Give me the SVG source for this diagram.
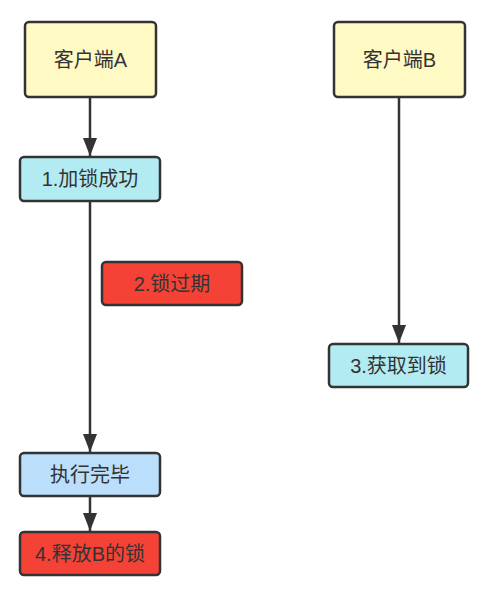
<svg xmlns="http://www.w3.org/2000/svg" width="483" height="591" viewBox="0 0 483 591">
<defs>
<style>
.box{stroke:#333;stroke-width:2.5}
.t{font-family:"Liberation Sans","Noto Sans CJK SC",sans-serif;font-size:20px;fill:#333;text-anchor:middle;dominant-baseline:central}
.c{stroke:#333;stroke-width:2.5;fill:none}
</style>
<marker id="ah" viewBox="0 0 18 14" refX="18" refY="7" markerWidth="18" markerHeight="14" markerUnits="userSpaceOnUse" orient="auto">
<path d="M0,0 L18,7 L0,14 Z" fill="#333"/>
</marker>
</defs>
<rect width="483" height="591" fill="#fff"/>
<g id="connectors">
<line class="c" x1="90" y1="97" x2="90" y2="156" marker-end="url(#ah)"/>
<line class="c" x1="399" y1="97" x2="399" y2="343" marker-end="url(#ah)"/>
<line class="c" x1="90" y1="201" x2="90" y2="452" marker-end="url(#ah)"/>
<line class="c" x1="90" y1="496" x2="90" y2="531" marker-end="url(#ah)"/>
</g>
<g id="clientA"><rect class="box" x="25" y="22" width="131" height="75" rx="4" fill="#FFF9C4"/><text class="t" x="90.5" y="60">客户端A</text></g>
<g id="clientB"><rect class="box" x="334" y="22" width="131" height="75" rx="4" fill="#FFF9C4"/><text class="t" x="399.5" y="60">客户端B</text></g>
<g id="n1"><rect class="box" x="20" y="157" width="140" height="44" rx="4" fill="#B2EBF2"/><text class="t" x="90" y="179">1.加锁成功</text></g>
<g id="n2"><rect class="box" x="102" y="262" width="140" height="43" rx="4" fill="#F44336"/><text class="t" x="172" y="284">2.锁过期</text></g>
<g id="n3"><rect class="box" x="329" y="344" width="139" height="43" rx="4" fill="#B2EBF2"/><text class="t" x="398.5" y="366">3.获取到锁</text></g>
<g id="n4"><rect class="box" x="20" y="453" width="140" height="43" rx="4" fill="#BBDEFB"/><text class="t" x="90" y="475">执行完毕</text></g>
<g id="n5"><rect class="box" x="20" y="532" width="140" height="43" rx="4" fill="#F44336"/><text class="t" x="90" y="554">4.释放B的锁</text></g>
</svg>
